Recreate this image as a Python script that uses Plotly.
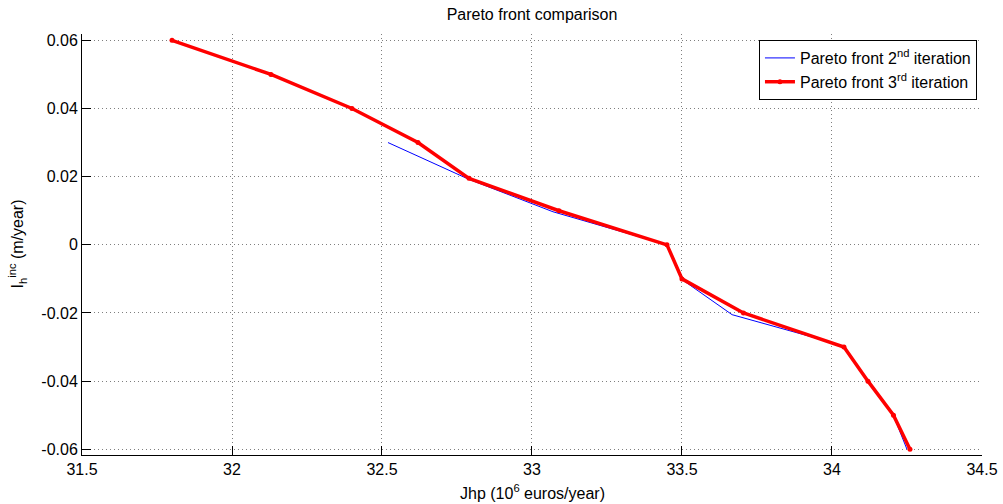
import plotly.graph_objects as go

# Pareto front, 2nd iteration
jhp_2nd = [32.52, 32.79, 33.07, 33.45, 33.49, 33.505, 33.667, 33.94, 34.04, 34.12, 34.20, 34.25]
ihinc_2nd = [0.030, 0.0192, 0.0097, 0.0, -0.0075, -0.0105, -0.0205, -0.0272, -0.030, -0.040, -0.049, -0.060]

# Pareto front, 3rd iteration
jhp_3rd = [31.80, 32.13, 32.40, 32.62, 32.79, 33.09, 33.45, 33.50, 33.705, 34.04, 34.12, 34.205, 34.26]
ihinc_3rd = [0.060, 0.050, 0.040, 0.030, 0.0195, 0.010, 0.0, -0.010, -0.020, -0.030, -0.040, -0.050, -0.060]

x_ticks = [31.5, 32, 32.5, 33, 33.5, 34, 34.5]
x_tick_labels = ["31.5", "32", "32.5", "33", "33.5", "34", "34.5"]
y_ticks = [-0.06, -0.04, -0.02, 0, 0.02, 0.04, 0.06]
y_tick_labels = ["-0.06", "-0.04", "-0.02", "0", "0.02", "0.04", "0.06"]

FONT = "Liberation Sans, Arial, sans-serif"

fig = go.Figure()
fig.add_trace(go.Scatter(
    x=jhp_2nd, y=ihinc_2nd, mode="lines",
    line=dict(color="#0000ff", width=1),
    name="Pareto front 2<sup>nd</sup> iteration",
))
fig.add_trace(go.Scatter(
    x=jhp_3rd, y=ihinc_3rd, mode="lines+markers",
    line=dict(color="#ff0000", width=3.5),
    marker=dict(color="#ff0000", size=5),
    name="Pareto front 3<sup>rd</sup> iteration",
))

axis_common = dict(
    showline=True, linecolor="black", linewidth=1, mirror=False,
    ticks="inside", ticklen=9, tickcolor="black", tickwidth=1,
    showgrid=True, gridcolor="#7f7f7f", gridwidth=1, griddash="1px,3px",
    zeroline=False, automargin=False,
    tickfont=dict(size=16, color="black", family=FONT),
)

fig.update_xaxes(range=[31.5, 34.5001], tickvals=x_ticks, ticktext=x_tick_labels, **axis_common)
fig.update_yaxes(range=[-0.06167, 0.06185], tickvals=y_ticks, ticktext=y_tick_labels, **axis_common)

fig.update_layout(
    width=1003, height=504,
    margin=dict(l=82, r=21, t=34, b=49, pad=0, autoexpand=False),
    paper_bgcolor="white", plot_bgcolor="white",
    font=dict(family=FONT, size=16, color="black"),
    title=dict(text="Pareto front comparison", x=532 / 1003, xanchor="center",
               y=1 - 14 / 504, yanchor="middle", font=dict(size=16)),
    showlegend=True,
    legend=dict(x=0.9944, xanchor="right", y=0.9857, yanchor="top",
                bgcolor="white", bordercolor="black", borderwidth=1,
                font=dict(size=16), tracegroupgap=0),
    annotations=[
        dict(text="Jhp (10<sup>6</sup> euros/year)", xref="paper", yref="paper",
             x=0.5, y=-(492 - 455) / 421, xanchor="center", yanchor="middle",
             showarrow=False, font=dict(size=16)),
        dict(text="I<sub>h</sub><sup>inc</sup> (m/year)", xref="paper", yref="paper",
             x=-(82 - 17) / 900, y=0.5, xanchor="center", yanchor="middle",
             textangle=-90, showarrow=False, font=dict(size=16)),
    ],
)

fig.write_html("out.html")
